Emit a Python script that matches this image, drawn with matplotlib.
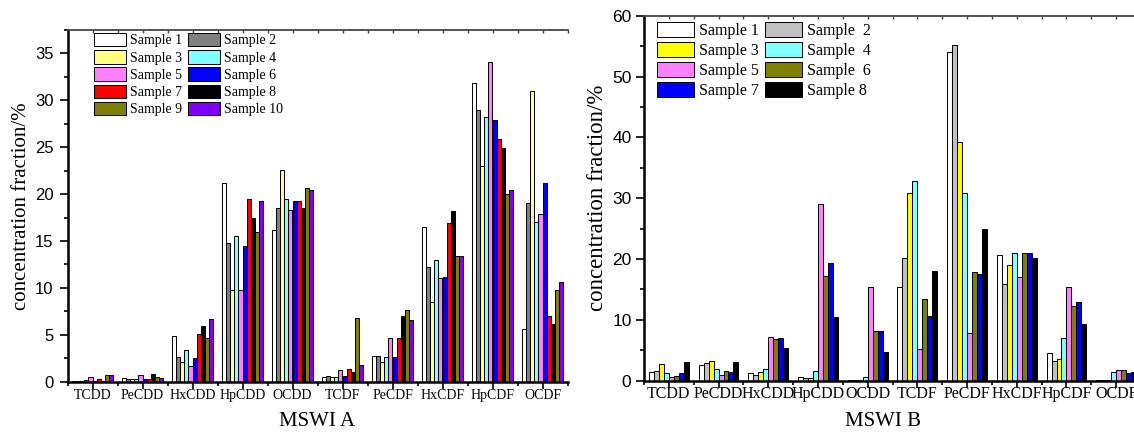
import matplotlib
matplotlib.use("Agg")
import matplotlib.pyplot as plt
import numpy as np

categories = ['TCDD', 'PeCDD', 'HxCDD', 'HpCDD', 'OCDD',
              'TCDF', 'PeCDF', 'HxCDF', 'HpCDF', 'OCDF']

# MSWI A, one list per sample (same order as categories)
a_s1 = [0.10, 0.36, 4.90, 21.2, 16.2, 0.45, 2.77, 16.5, 31.9, 5.6]
a_s2 = [0.05, 0.32, 2.60, 14.8, 18.5, 0.60, 2.77, 12.2, 29.0, 19.1]
a_s3 = [0.05, 0.25, 2.06, 9.8, 22.6, 0.45, 2.13, 8.5, 23.0, 31.0]
a_s4 = [0.14, 0.32, 3.34, 15.5, 19.5, 0.45, 2.60, 13.0, 28.2, 17.0]
a_s5 = [0.46, 0.67, 1.63, 9.8, 18.3, 1.25, 4.65, 11.1, 34.1, 17.9]
a_s6 = [0.05, 0.32, 2.52, 14.5, 19.3, 0.60, 2.66, 11.2, 27.9, 21.2]
a_s7 = [0.25, 0.32, 5.04, 19.5, 19.3, 1.40, 4.62, 16.9, 25.9, 7.0]
a_s8 = [0.10, 0.78, 5.93, 17.5, 18.5, 1.05, 6.96, 18.2, 24.9, 6.2]
a_s9 = [0.67, 0.46, 4.69, 16.0, 20.6, 6.75, 7.64, 13.4, 20.0, 9.8]
a_s10 = [0.67, 0.36, 6.64, 19.3, 20.4, 1.80, 6.60, 13.4, 20.4, 10.6]

# MSWI B
b_s1 = [1.37, 2.50, 1.20, 0.55, 0.05, 15.45, 54.0, 20.7, 4.5, 0.05]
b_s2 = [1.64, 2.85, 1.00, 0.44, 0.05, 20.1, 55.2, 15.9, 3.2, 0.05]
b_s3 = [2.74, 3.18, 1.37, 0.50, 0.05, 30.8, 39.2, 19.0, 3.5, 0.05]
b_s4 = [1.20, 1.97, 1.86, 1.60, 0.66, 32.9, 30.8, 21.0, 7.0, 1.5]
b_s5 = [0.55, 0.88, 7.23, 29.1, 15.45, 5.15, 7.8, 17.0, 15.45, 1.75]
b_s6 = [0.82, 1.60, 6.80, 17.2, 8.1, 13.4, 17.8, 21.0, 12.2, 1.7]
b_s7 = [1.30, 1.37, 6.96, 19.3, 8.1, 10.7, 17.5, 21.0, 12.9, 1.2]
b_s8 = [3.07, 3.07, 5.37, 10.5, 4.7, 18.1, 25.0, 20.2, 9.4, 1.37]

a_labels = ['Sample 1', 'Sample 2', 'Sample 3', 'Sample 4', 'Sample 5',
            'Sample 6', 'Sample 7', 'Sample 8', 'Sample 9', 'Sample 10']
b_labels = ['Sample 1', 'Sample  2', 'Sample 3', 'Sample  4',
            'Sample 5', 'Sample  6', 'Sample 7', 'Sample 8']

a_colors = ['#FFFFFF', '#808080', '#FFFF80', '#80FFFF', '#FF80FF',
            '#0000FF', '#FF0000', '#000000', '#808000', '#8000FF']
b_colors = ['#FFFFFF', '#C0C0C0', '#FFFF00', '#80FFFF',
            '#FF80FF', '#808000', '#0000FF', '#000000']

serif = 'Liberation Serif'
sans = 'Liberation Sans'

fig = plt.figure(figsize=(11.34, 4.32), dpi=100)
W, H = 1134, 432


def axes_px(x0, x1, ytop, ybot):
    return fig.add_axes([x0 / W, 1 - ybot / H, (x1 - x0) / W, (ybot - ytop) / H])


def style_axes(ax, ymax, ystep, xfs, yfs, lab_fs, xpad, ypad):
    x = np.arange(len(categories))
    ax.set_xlim(-0.5, len(categories) - 0.5)
    ax.set_ylim(0, ymax)
    ax.set_xticks(x)
    ax.set_xticks(np.arange(len(categories) + 1) - 0.5, minor=True)
    ax.set_xticklabels(categories, fontfamily=serif, fontsize=xfs)
    ax.set_yticks(np.arange(0, ymax + 0.01, ystep))
    ax.set_yticks(np.arange(0, ymax + 0.01, ystep / 2), minor=True)
    for t in ax.get_yticklabels():
        t.set_fontfamily(sans)
        t.set_fontsize(yfs)
    ax.tick_params(axis='x', which='major', direction='out', length=5, width=1.2, pad=xpad)
    ax.tick_params(axis='x', which='minor', direction='out', length=3, width=1.2)
    ax.tick_params(axis='y', which='major', direction='out', length=6, width=1.2, pad=ypad)
    ax.tick_params(axis='y', which='minor', direction='out', length=3, width=1.2)
    for s in ['left', 'bottom']:
        ax.spines[s].set_linewidth(1.8)
    ax.spines['top'].set_linewidth(1.3)
    ax.spines['top'].set_color('#444444')
    ax.spines['right'].set_visible(False)
    # small inward ticks on the top frame
    top = ax.secondary_xaxis('top')
    top.set_xticks(np.arange(len(categories) + 1) - 0.5)
    top.set_xticks(x, minor=True)
    top.tick_params(which='both', direction='in', length=2, width=1, colors='#444444',
                    labeltop=False)
    top.spines['top'].set_visible(False)
    ax.set_ylabel('concentration fraction/%', fontfamily=serif, fontsize=lab_fs)


# ---- MSWI A ----
ax1 = axes_px(67.5, 567.5, 30, 381.7)
a_series = [a_s1, a_s2, a_s3, a_s4, a_s5, a_s6, a_s7, a_s8, a_s9, a_s10]
n = len(a_series)
w = 0.082
x = np.arange(len(categories))
bars_a = []
for i, vals in enumerate(a_series):
    b = ax1.bar(x + (i - (n - 1) / 2) * w, vals, w, color=a_colors[i],
                edgecolor='black', linewidth=0.7, label=a_labels[i])
    bars_a.append(b)
style_axes(ax1, 37.5, 5, 10, 12, 15, 0.5, 4)
ax1.set_xlabel('MSWI A', fontfamily=serif, fontsize=15)
ax1.xaxis.set_label_coords(0.5, -0.086)
ax1.xaxis.label.set_va('top')
ax1.yaxis.set_label_coords(-0.073, 0.5)
order = [0, 2, 4, 6, 8, 1, 3, 5, 7, 9]
ax1.legend([bars_a[k] for k in order], [a_labels[k] for k in order], ncol=2,
           loc='upper left', bbox_to_anchor=(94 / W, 1 - 33 / H),
           bbox_transform=fig.transFigure, frameon=False,
           prop={'family': serif, 'size': 10}, handlelength=2.3,
           handleheight=1.1, labelspacing=0.2, handletextpad=0.3,
           columnspacing=0.4, borderpad=0, borderaxespad=0)

# ---- MSWI B ----
ax2 = axes_px(644, 1141, 15.7, 380.7)
b_series = [b_s1, b_s2, b_s3, b_s4, b_s5, b_s6, b_s7, b_s8]
n = len(b_series)
w = 0.1
bars_b = []
for i, vals in enumerate(b_series):
    b = ax2.bar(x + (i - (n - 1) / 2) * w, vals, w, color=b_colors[i],
                edgecolor='black', linewidth=0.7, label=b_labels[i])
    bars_b.append(b)
style_axes(ax2, 60, 10, 11.5, 12.5, 16.5, -1.5, 3)
ax2.set_xlabel('MSWI B', fontfamily=serif, fontsize=15)
ax2.xaxis.set_label_coords(0.481, -0.086)
ax2.xaxis.label.set_va('top')
ax2.yaxis.set_label_coords(-0.072, 0.5)
order = [0, 2, 4, 6, 1, 3, 5, 7]
ax2.legend([bars_b[k] for k in order], [b_labels[k] for k in order], ncol=2,
           loc='upper left', bbox_to_anchor=(657 / W, 1 - 22 / H),
           bbox_transform=fig.transFigure, frameon=False,
           prop={'family': serif, 'size': 11.5}, handlelength=2.3,
           handleheight=1.1, labelspacing=0.18, handletextpad=0.33,
           columnspacing=0.4, borderpad=0, borderaxespad=0)

fig.savefig('out.png', dpi=100)
